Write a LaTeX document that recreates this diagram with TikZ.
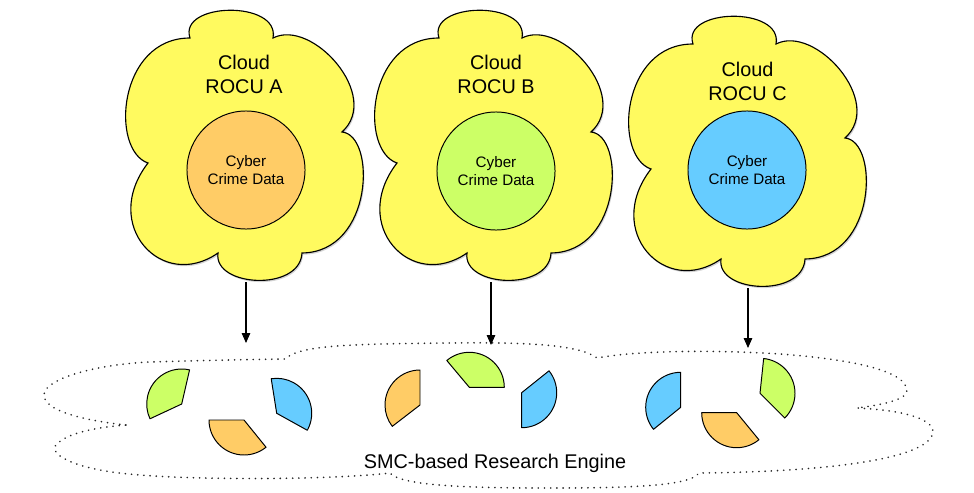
\documentclass[tikz,border=0pt]{standalone}
\usepackage{fontspec}
\setmainfont{Liberation Sans}
\usetikzlibrary{arrows.meta,shadows}
\definecolor{cloudyellow}{RGB}{255,250,95}
\definecolor{pieceorange}{RGB}{255,204,102}
\definecolor{piecegreen}{RGB}{204,255,102}
\definecolor{pieceblue}{RGB}{102,204,255}
\begin{document}
\begin{tikzpicture}[x=0.025cm,y=0.025cm,
  cloudshape/.style={draw=black, line width=0.8pt, fill=cloudyellow,
    drop shadow={shadow xshift=0.8pt, shadow yshift=-1.2pt, opacity=0.35}},
  datacircle/.style={circle, draw=black, line width=0.7pt, minimum size=2.95cm,
    inner sep=0pt, align=center, font=\fontsize{10.8}{12.5}\selectfont},
  cloudlabel/.style={align=center, font=\fontsize{14.1}{16.4}\selectfont, inner sep=0pt},
  enginelabel/.style={font=\fontsize{14.1}{16.4}\selectfont, inner sep=0pt, anchor=base},
  piece/.style={draw=black, line width=0.7pt, line join=round},
  feed/.style={-{Triangle[length=7pt,width=6pt]}, line width=0.75pt},
  engine/.style={draw=black!85, line width=1.3pt, dash pattern=on 0.01pt off 4.4pt, line cap=round},
  flower/.pic={
    \path[cloudshape] (190,-38) .. controls (178,-2) and (280,0) .. (273,-38)
      .. controls (312,-18) and (382,-96) .. (342,-132)
      .. controls (376,-135) and (374,-252) .. (302,-253)
      .. controls (300,-292) and (213,-287) .. (218,-253)
      .. controls (162,-292) and (100,-225) .. (148,-163)
      .. controls (110,-150) and (118,-38) .. (190,-38) -- cycle;
  }
]
\useasboundingbox (0,0) rectangle (974,-493);

% research engine (dotted cloud)
\path[engine] (126,-425) .. controls (80,-420) and (44,-410) .. (44,-395)
 .. controls (44,-378) and (100,-364) .. (150,-362)
 .. controls (200,-360.5) and (250,-359.5) .. (285,-359)
 .. controls (300,-345) and (350,-344) .. (450,-343)
 .. controls (530,-342) and (580,-345) .. (597,-358)
 .. controls (640,-350) and (720,-350) .. (780,-354)
 .. controls (860,-360) and (905,-372) .. (907,-390)
 .. controls (908,-400) and (880,-405) .. (857,-408)
 .. controls (900,-410) and (933,-418) .. (933,-432)
 .. controls (930,-460) and (820,-472) .. (699,-473)
 .. controls (690,-487) and (620,-488) .. (545,-488)
 .. controls (460,-488) and (400,-485) .. (390,-473)
 .. controls (330,-480) and (200,-480) .. (140,-475)
 .. controls (70,-470) and (45,-452) .. (58,-443)
 .. controls (70,-432) and (100,-427) .. (126,-425) -- cycle;
\node[enginelabel] (engine) at (495,-468) {SMC-based Research Engine};

% shares
\draw[piece, fill=piecegreen]  (181.7,-404) -- ++(77:35) arc[start angle=77, end angle=205, radius=35] -- cycle;
\draw[piece, fill=pieceorange] (244,-420) -- ++(180:35) arc[start angle=180, end angle=309, radius=35] -- cycle;
\draw[piece, fill=pieceblue]   (276.7,-413.3) -- ++(-29:35) arc[start angle=-29, end angle=99, radius=35] -- cycle;

\draw[piece, fill=pieceorange] (420,-405) -- ++(90:35) arc[start angle=90, end angle=217.6, radius=35] -- cycle;
\draw[piece, fill=piecegreen]  (469.3,-387.3) -- ++(0:35) arc[start angle=0, end angle=130, radius=35] -- cycle;
\draw[piece, fill=pieceblue]   (521.7,-392.7) -- ++(-90:35) arc[start angle=-90, end angle=38.7, radius=35] -- cycle;

\draw[piece, fill=pieceblue]   (680.7,-407.3) -- ++(90:35) arc[start angle=90, end angle=219, radius=35] -- cycle;
\draw[piece, fill=pieceorange] (736.7,-412.7) -- ++(180:35) arc[start angle=180, end angle=309.4, radius=35] -- cycle;
\draw[piece, fill=piecegreen]  (760,-393.3) -- ++(-45:35) arc[start angle=-45, end angle=84, radius=35] -- cycle;

% clouds
\pic (cloudA) at (0,0) {flower};
\pic (cloudB) at (249,0) {flower};
\pic (cloudC) at (503,-6) {flower};

\node[cloudlabel] (labA) at (244,-74.4) {Cloud\\ROCU A};
\node[cloudlabel] (labB) at (496,-74.4) {Cloud\\ROCU B};
\node[cloudlabel] (labC) at (747.5,-81.4) {Cloud\\ROCU C};

\node[datacircle, fill=pieceorange] (dataA) at (246,-170) {Cyber\\Crime Data};
\node[datacircle, fill=piecegreen]  (dataB) at (496,-171) {Cyber\\Crime Data};
\node[datacircle, fill=pieceblue]   (dataC) at (747,-170) {Cyber\\Crime Data};

% feeds
\coordinate (outA) at (246,-282);
\coordinate (inA) at (246,-343);
\coordinate (outB) at (491,-282);
\coordinate (inB) at (491,-345);
\coordinate (outC) at (748,-288);
\coordinate (inC) at (748,-348);
\draw[feed] (outA) -- (inA);
\draw[feed] (outB) -- (inB);
\draw[feed] (outC) -- (inC);
\end{tikzpicture}
\end{document}
